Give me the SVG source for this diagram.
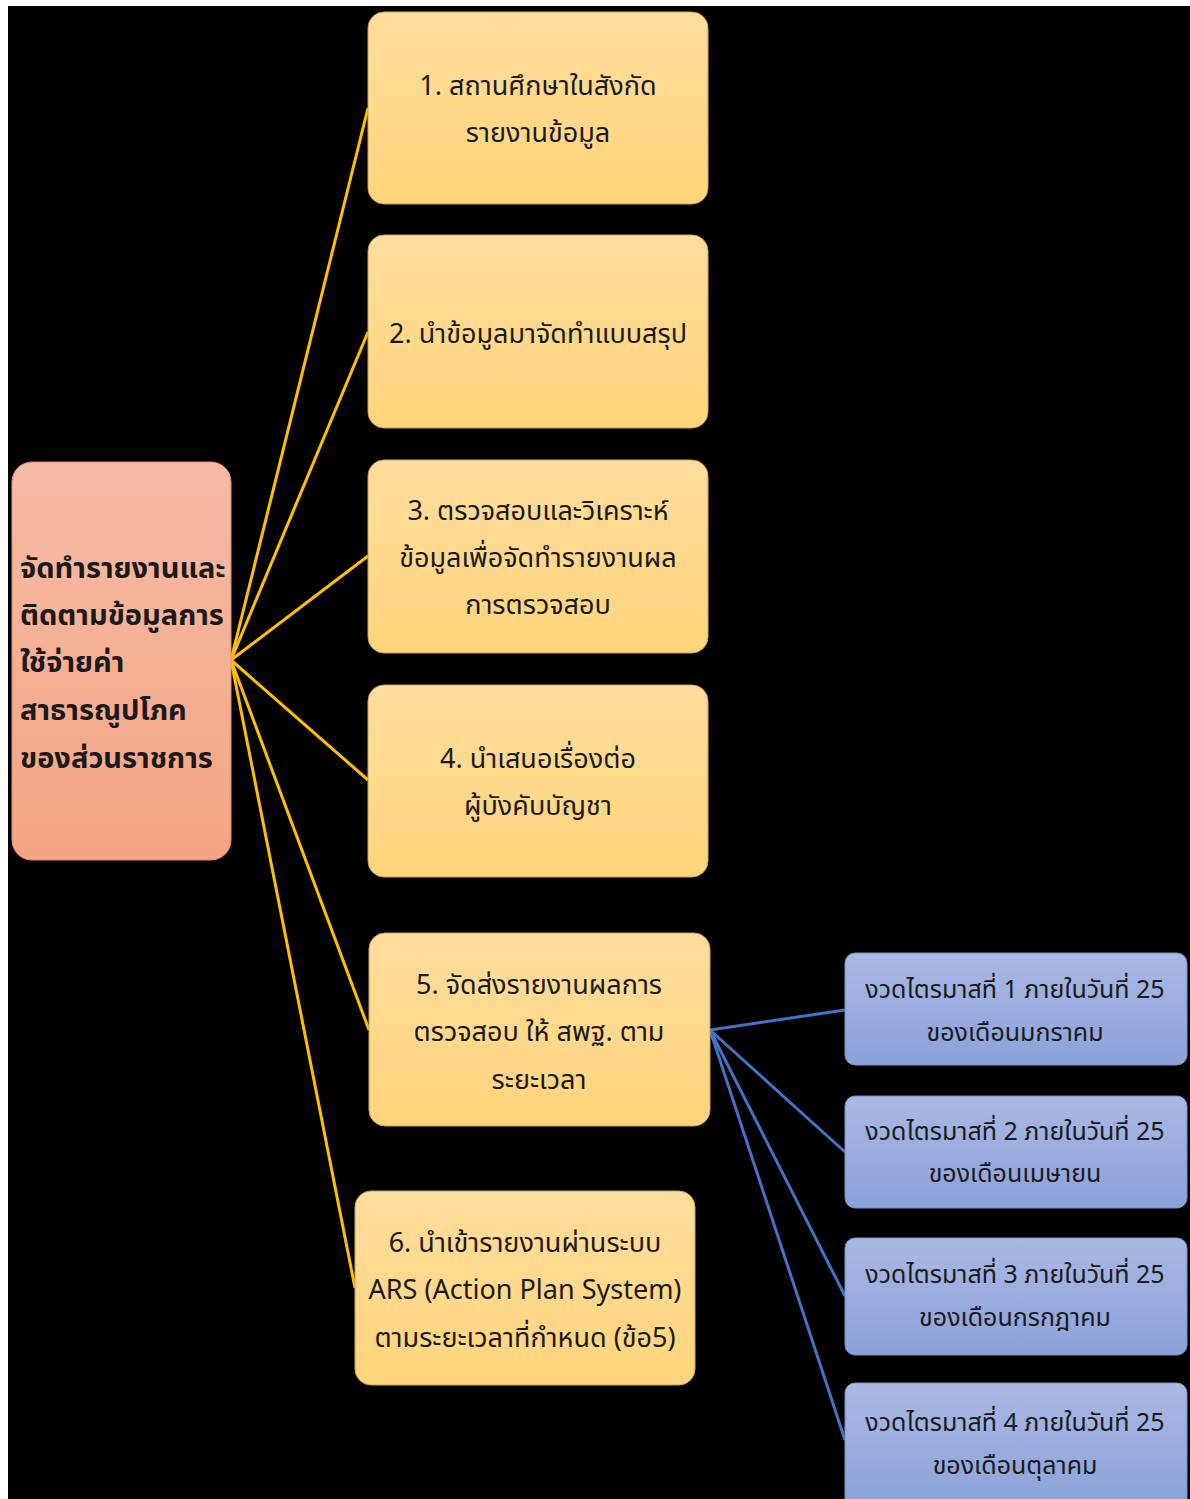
<svg xmlns="http://www.w3.org/2000/svg" width="1190" height="1499" viewBox="0 0 1190 1499">
  <defs>
    <linearGradient id="gRoot" x1="0" y1="0" x2="0" y2="1">
      <stop offset="0" stop-color="#F6BCA6"/>
      <stop offset="1" stop-color="#F4A483"/>
    </linearGradient>
    <linearGradient id="gStep" x1="0" y1="0" x2="0" y2="1">
      <stop offset="0" stop-color="#FFDD9E"/>
      <stop offset="1" stop-color="#FFD47A"/>
    </linearGradient>
    <linearGradient id="gQ" x1="0" y1="0" x2="0" y2="1">
      <stop offset="0" stop-color="#AAB9E4"/>
      <stop offset="1" stop-color="#8BA1D9"/>
    </linearGradient>
    <style>
      .root { fill: url(#gRoot); stroke: #D98E72; stroke-width: 1; }
      .step { fill: url(#gStep); stroke: #C9A35A; stroke-width: 1; }
      .q { fill: url(#gQ); stroke: #7A8FC4; stroke-width: 1; }
      text { font-family: "Noto Sans Thai", "Noto Sans", "DejaVu Sans", sans-serif; fill: #1a1a1a; }
      .t-root { font-size: 29px; font-weight: bold; }
      .t-step { font-size: 27px; text-anchor: middle; }
      .t-q { font-size: 25px; text-anchor: middle; }
      .ly { stroke: #FFC000; stroke-width: 3; fill: none; }
      .lb { stroke: #4472C4; stroke-width: 3; fill: none; }
    </style>
  </defs>

  <!-- page and dark canvas -->
  <rect x="0" y="0" width="1190" height="1499" fill="#ffffff"/>
  <rect x="8" y="6" width="1182" height="1493" fill="#000000"/>

  <!-- connectors -->
  <g id="connectors">
    <line class="ly" x1="231" y1="660" x2="368" y2="108"/>
    <line class="ly" x1="231" y1="660" x2="368" y2="332"/>
    <line class="ly" x1="231" y1="660" x2="368" y2="556"/>
    <line class="ly" x1="231" y1="660" x2="368" y2="780"/>
    <line class="ly" x1="231" y1="660" x2="369" y2="1030"/>
    <line class="ly" x1="231" y1="660" x2="355" y2="1288"/>
    <line class="lb" x1="710" y1="1030" x2="845" y2="1010"/>
    <line class="lb" x1="710" y1="1030" x2="845" y2="1152"/>
    <line class="lb" x1="710" y1="1030" x2="845" y2="1296"/>
    <line class="lb" x1="710" y1="1030" x2="845" y2="1440"/>
  </g>

  <!-- root topic -->
  <g id="root">
    <rect class="root" x="12" y="462" width="219" height="398" rx="20"/>
    <text class="t-root" x="20" y="578">จัดทำรายงานและ</text>
    <text class="t-root" x="20" y="625">ติดตามข้อมูลการ</text>
    <text class="t-root" x="20" y="672">ใช้จ่ายค่า</text>
    <text class="t-root" x="20" y="720">สาธารณูปโภค</text>
    <text class="t-root" x="20" y="768">ของส่วนราชการ</text>
  </g>

  <!-- steps -->
  <g id="step1">
    <rect class="step" x="368" y="12" width="340" height="192" rx="16"/>
    <text class="t-step" x="538" y="95">1. สถานศึกษาในสังกัด</text>
    <text class="t-step" x="538" y="142">รายงานข้อมูล</text>
  </g>
  <g id="step2">
    <rect class="step" x="368" y="235" width="340" height="193" rx="16"/>
    <text class="t-step" x="538" y="343">2. นำข้อมูลมาจัดทำแบบสรุป</text>
  </g>
  <g id="step3">
    <rect class="step" x="368" y="460" width="340" height="193" rx="16"/>
    <text class="t-step" x="538" y="520">3. ตรวจสอบและวิเคราะห์</text>
    <text class="t-step" x="538" y="567">ข้อมูลเพื่อจัดทำรายงานผล</text>
    <text class="t-step" x="538" y="614">การตรวจสอบ</text>
  </g>
  <g id="step4">
    <rect class="step" x="368" y="685" width="340" height="192" rx="16"/>
    <text class="t-step" x="538" y="768">4. นำเสนอเรื่องต่อ</text>
    <text class="t-step" x="538" y="815">ผู้บังคับบัญชา</text>
  </g>
  <g id="step5">
    <rect class="step" x="369" y="933" width="341" height="193" rx="16"/>
    <text class="t-step" x="539" y="994">5. จัดส่งรายงานผลการ</text>
    <text class="t-step" x="539" y="1041">ตรวจสอบ ให้ สพฐ. ตาม</text>
    <text class="t-step" x="539" y="1089">ระยะเวลา</text>
  </g>
  <g id="step6">
    <rect class="step" x="355" y="1191" width="340" height="194" rx="16"/>
    <text class="t-step" x="525" y="1252">6. นำเข้ารายงานผ่านระบบ</text>
    <text class="t-step" x="525" y="1299">ARS (Action Plan System)</text>
    <text class="t-step" x="525" y="1347">ตามระยะเวลาที่กำหนด (ข้อ5)</text>
  </g>

  <!-- quarterly deadlines -->
  <g id="q1">
    <rect class="q" x="845" y="953" width="342" height="112" rx="10"/>
    <text class="t-q" x="1015" y="998">งวดไตรมาสที่ 1 ภายในวันที่ 25</text>
    <text class="t-q" x="1015" y="1041">ของเดือนมกราคม</text>
  </g>
  <g id="q2">
    <rect class="q" x="845" y="1096" width="342" height="112" rx="10"/>
    <text class="t-q" x="1015" y="1140">งวดไตรมาสที่ 2 ภายในวันที่ 25</text>
    <text class="t-q" x="1015" y="1182">ของเดือนเมษายน</text>
  </g>
  <g id="q3">
    <rect class="q" x="845" y="1238" width="342" height="117" rx="10"/>
    <text class="t-q" x="1015" y="1283">งวดไตรมาสที่ 3 ภายในวันที่ 25</text>
    <text class="t-q" x="1015" y="1326">ของเดือนกรกฎาคม</text>
  </g>
  <g id="q4">
    <rect class="q" x="845" y="1383" width="342" height="125" rx="10"/>
    <text class="t-q" x="1015" y="1431">งวดไตรมาสที่ 4 ภายในวันที่ 25</text>
    <text class="t-q" x="1015" y="1474">ของเดือนตุลาคม</text>
  </g>
</svg>
